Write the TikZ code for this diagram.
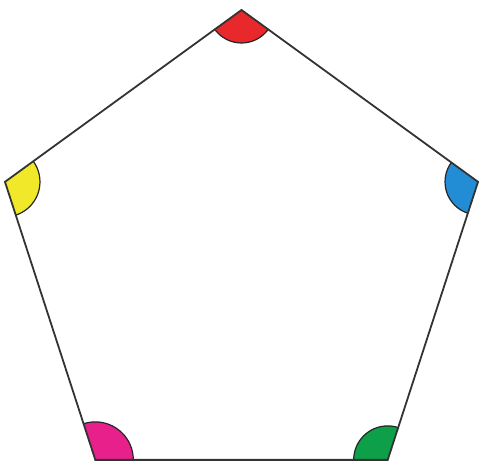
\documentclass[tikz,border=0pt]{standalone}
\usetikzlibrary{calc}
\begin{document}
\begin{tikzpicture}[x=1pt,y=1pt,
  edge/.style={draw=black!80,line width=1.8pt,line join=miter},
  sector/.style={draw=black!85,line width=1.2pt}]
\useasboundingbox (0,0) rectangle (479,462);
\coordinate (c) at (241.5,203.3);
\coordinate (vt) at ($(c)+(90:248.7)$);
\coordinate (vl) at ($(c)+(162:248.7)$);
\coordinate (vbl) at ($(c)+(234:248.7)$);
\coordinate (vbr) at ($(c)+(306:248.7)$);
\coordinate (vr) at ($(c)+(18:248.7)$);
\begin{scope}
  \clip (vt) -- (vl) -- (vbl) -- (vbr) -- (vr) -- cycle;
  \filldraw[sector,fill={rgb,255:red,232;green,40;blue,42}] (vt) circle (33);
  \filldraw[sector,fill={rgb,255:red,240;green,232;blue,40}] (vl) circle (35);
  \filldraw[sector,fill={rgb,255:red,232;green,32;blue,140}] (vbl) circle (38);
  \filldraw[sector,fill={rgb,255:red,14;green,160;blue,72}] (vbr) circle (34);
  \filldraw[sector,fill={rgb,255:red,34;green,140;blue,212}] (vr) circle (33);
\end{scope}
\draw[edge] (vt) -- (vl) -- (vbl) -- (vbr) -- (vr) -- cycle;
\end{tikzpicture}
\end{document}
